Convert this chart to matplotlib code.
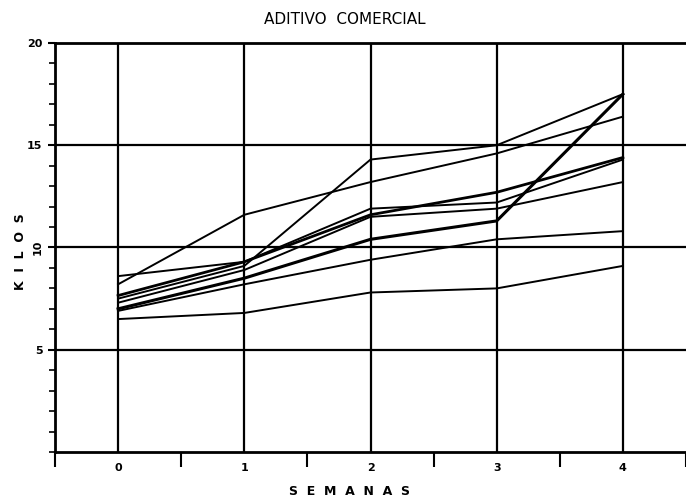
import matplotlib
matplotlib.use("Agg")
import matplotlib.pyplot as plt
import numpy as np

weeks = [0, 1, 2, 3, 4]
series = {
    "A": [8.2, 11.6, 13.2, 14.6, 16.4],
    "B": [7.5, 9.1, 14.3, 15.0, 17.5],
    "C": [7.0, 8.5, 10.4, 11.3, 17.5],
    "D": [7.65, 9.3, 11.6, 12.7, 14.4],
    "E": [8.6, 9.3, 11.9, 12.2, 14.3],
    "F": [7.3, 8.9, 11.5, 11.9, 13.2],
    "G": [6.9, 8.2, 9.4, 10.4, 10.8],
    "H": [6.5, 6.8, 7.8, 8.0, 9.1],
}
widths = {"C": 2.2, "D": 2.0}
ytick_vals = [5, 10, 15, 20]
xtick_labels = ["0", "1", "2", "3", "4"]

fig = plt.figure(figsize=(6.86, 5.04), dpi=100)
ax = fig.add_axes([55/686, 52/504, 631/686, 409/504])

for k, v in series.items():
    ax.plot(weeks, v, color="black", lw=widths.get(k, 1.4), zorder=3)

ax.set_xlim(-0.5, 4.5)
ax.set_ylim(0, 20)

for x in weeks:
    ax.axvline(x, color="black", lw=1.6, zorder=1)
for y in ytick_vals[:-1]:
    ax.axhline(y, color="black", lw=1.6, zorder=1)

for s in ["left", "bottom", "top"]:
    ax.spines[s].set_linewidth(2)
ax.spines["right"].set_visible(False)

ax.set_xticks(weeks)
ax.set_xticklabels(xtick_labels, fontsize=8, fontweight="bold")
ax.set_xticks(np.arange(-0.5, 4.6, 1.0), minor=True)
ax.tick_params(axis="x", which="major", length=0, pad=8)
ax.tick_params(axis="x", which="minor", length=11, width=1.5, direction="out")

ax.set_yticks(ytick_vals)
ax.set_yticklabels([str(v) for v in ytick_vals], fontsize=8, fontweight="bold")
ax.set_yticks(np.arange(0, 21, 1), minor=True)
ax.tick_params(axis="y", which="major", length=5, width=1.5, direction="out", pad=4)
ax.tick_params(axis="y", which="minor", length=4, width=1.2, direction="out")
for lab in ax.get_yticklabels():
    if lab.get_text() == "10":
        lab.set_rotation(90)
        lab.set_va("center")

fig.text(0.503, 0.962, "ADITIVO  COMERCIAL", ha="center", va="center", fontsize=11)
fig.text(0.51, 0.025, "S  E  M  A  N  A  S", ha="center", va="center", fontsize=9, fontweight="bold")
fig.text(0.03, 0.50, "K  I  L  O  S", ha="center", va="center", rotation=90, fontsize=9, fontweight="bold")

fig.savefig("out.png", dpi=100)
